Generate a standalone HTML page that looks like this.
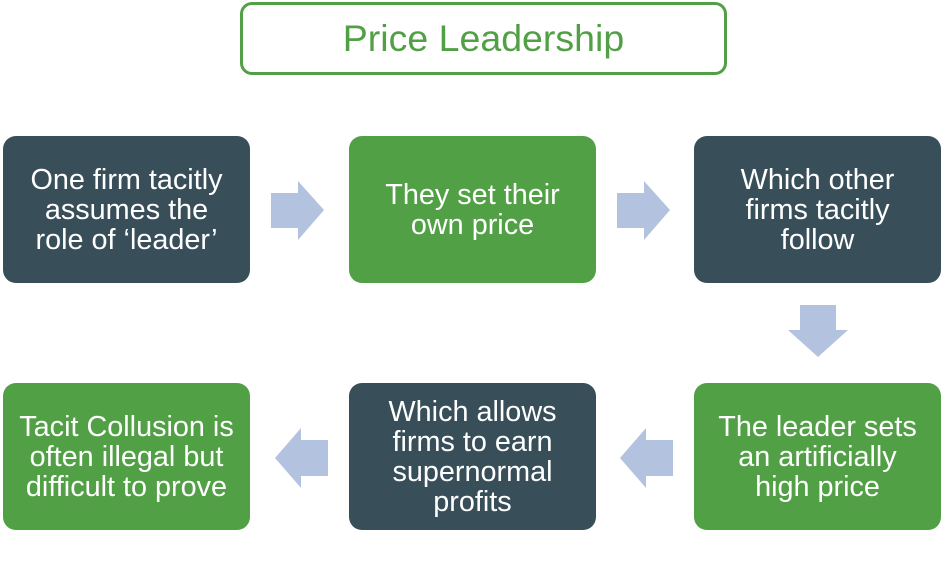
<!DOCTYPE html>
<html><head><style>
body{margin:0;width:944px;height:571px;background:#fff;position:relative;overflow:hidden;font-family:"Liberation Sans",Arial,sans-serif}
.t{position:absolute;left:240px;top:2px;width:481px;height:67px;border:3px solid #52a046;border-radius:12px;color:#52a046;font-size:37.5px;display:flex;align-items:center;justify-content:center}
.b{position:absolute;width:247px;height:147px;border-radius:13px;color:#fff;font-size:28.8px;line-height:30px;text-align:center;display:flex;align-items:center;justify-content:center}
.d{background:#384e59}.g{background:#52a046}
svg{position:absolute;left:0;top:0}
</style></head><body>
<div class="t">Price Leadership</div>
<div class="b d" style="left:3px;top:136px">One firm tacitly<br>assumes the<br>role of ‘leader’</div>
<div class="b g" style="left:349px;top:136px">They set their<br>own price</div>
<div class="b d" style="left:694px;top:136px">Which other<br>firms tacitly<br>follow</div>
<div class="b g" style="left:3px;top:383px">Tacit Collusion is<br>often illegal but<br>difficult to prove</div>
<div class="b d" style="left:349px;top:383px">Which allows<br>firms to earn<br>supernormal<br>profits</div>
<div class="b g" style="left:694px;top:383px">The leader sets<br>an artificially<br>high price</div>
<svg width="944" height="571">
<g fill="#b3c3df">
<polygon points="271,193 298,193 298,181 324,210 298,240 298,228 271,228"/>
<polygon points="617,193 644,193 644,181 670,210 644,240 644,228 617,228"/>
<polygon points="800,305 836,305 836,330 848,330 818,357 788,330 800,330"/>
<polygon points="673,440 646,440 646,428 620,458 646,488 646,476 673,476"/>
<polygon points="328,440 301,440 301,428 275,458 301,488 301,476 328,476"/>
</g></svg>
</body></html>
